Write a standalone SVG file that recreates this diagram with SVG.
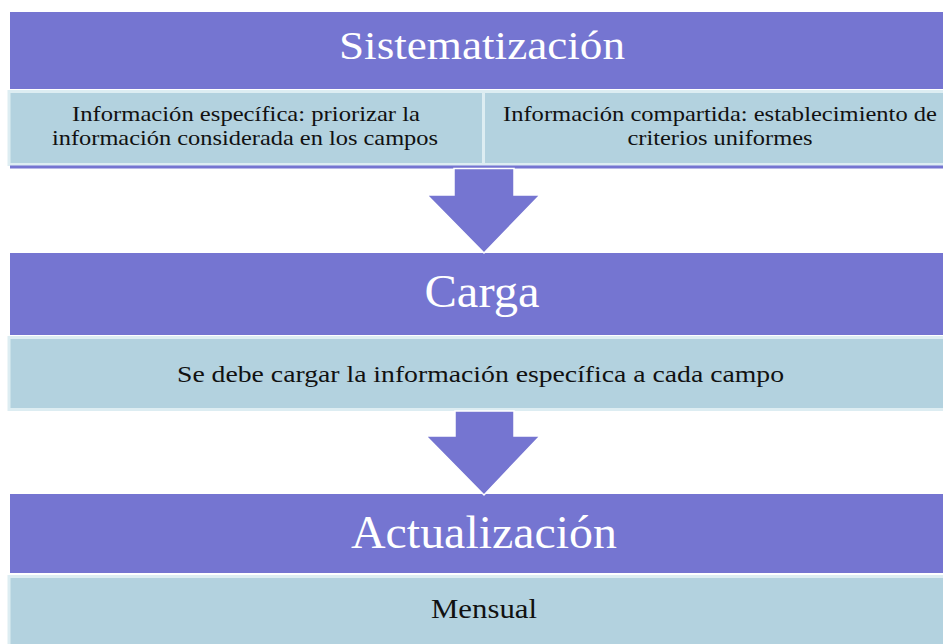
<svg xmlns="http://www.w3.org/2000/svg" width="943" height="644" viewBox="0 0 943 644">
<defs>
<style>
.head{fill:#7575D1;}
.body{fill:#B3D2DF;stroke:#DDEDF2;stroke-width:3;}
.title{font-family:"Liberation Serif","DejaVu Serif",serif;fill:#FFFFFF;text-anchor:middle;}
.txt{font-family:"Liberation Serif","DejaVu Serif",serif;fill:#111111;text-anchor:middle;}
.arrow{fill:#7575D1;stroke:#FFFFFF;stroke-width:1.5;stroke-linejoin:miter;}
</style>
</defs>
<rect x="0" y="0" width="943" height="644" fill="#FFFFFF"/>
<g id="sistematizacion">
<rect class="head" x="10" y="12" width="933" height="77"/>
<text class="title" x="482" y="59" font-size="41" textLength="286" lengthAdjust="spacingAndGlyphs">Sistematización</text>
<rect class="body" x="9" y="91.5" width="936" height="73"/>
<line x1="483.5" y1="91" x2="483.5" y2="165" stroke="#DDEDF2" stroke-width="3"/>
<rect class="head" x="10" y="165.5" width="933" height="3"/>
<text class="txt" x="246" y="121" font-size="21" textLength="348" lengthAdjust="spacingAndGlyphs">Información específica:  priorizar la</text>
<text class="txt" x="245" y="145" font-size="21" textLength="386" lengthAdjust="spacingAndGlyphs">información considerada en los campos</text>
<text class="txt" x="720" y="121" font-size="21" textLength="434" lengthAdjust="spacingAndGlyphs">Información compartida: establecimiento de</text>
<text class="txt" x="720" y="145" font-size="21" textLength="185" lengthAdjust="spacingAndGlyphs">criterios uniformes</text>
</g>
<g id="carga">
<rect class="head" x="10" y="253" width="933" height="82"/>
<text class="title" x="482" y="307" font-size="46" textLength="115" lengthAdjust="spacingAndGlyphs">Carga</text>
<rect class="body" x="9" y="337.5" width="936" height="72"/>
<text class="txt" x="480.5" y="382" font-size="24" textLength="607" lengthAdjust="spacingAndGlyphs">Se debe cargar la información específica a cada campo</text>
</g>
<g id="actualizacion">
<rect class="head" x="10" y="494" width="933" height="79"/>
<text class="title" x="484" y="548" font-size="46" textLength="266" lengthAdjust="spacingAndGlyphs">Actualización</text>
<rect class="body" x="9" y="576.5" width="936" height="70"/>
<text class="txt" x="484" y="618" font-size="28" textLength="106" lengthAdjust="spacingAndGlyphs">Mensual</text>
</g>
<g id="connectors">
<polygon class="arrow" points="454,168.5 514,168.5 514,195 540,195 484,253 427,195 454,195"/>
<polygon class="arrow" points="455,411 514,411 514,436 540,436 484,495 426,436 455,436"/>
</g>
</svg>
